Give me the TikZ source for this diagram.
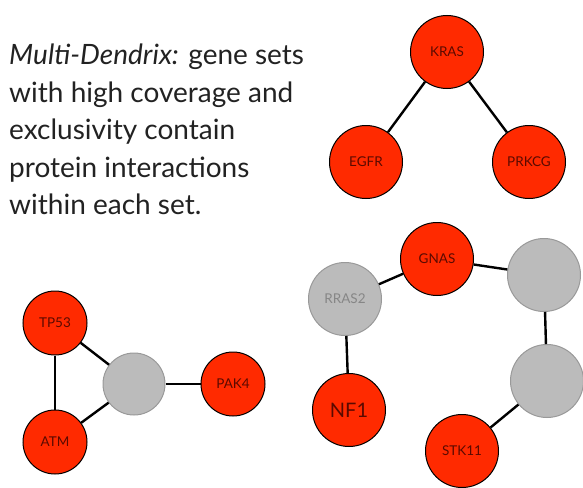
\documentclass[tikz,border=0pt]{standalone}
\usepackage{fontspec}
\setmainfont{Lato}
\usepackage{xcolor}
\usetikzlibrary{positioning}
\definecolor{genered}{HTML}{FF2A00}
\definecolor{genegray}{HTML}{BBBBBB}
\definecolor{labeltxt}{HTML}{5A0A00}
\definecolor{captiontxt}{HTML}{222222}
\tikzset{
  gene/.style={circle, draw=black, line width=1pt, fill=genered, inner sep=0pt,
    minimum size=73pt, text=labeltxt, font=\fontsize{13.5}{13.5}\selectfont},
  other/.style={circle, draw=gray!80, line width=1pt, fill=genegray, inner sep=0pt,
    minimum size=73pt, text=gray!95!white, font=\fontsize{13.5}{13.5}\selectfont},
  link/.style={line width=2.4pt, black}
}
\begin{document}
\begin{tikzpicture}[x=1pt, y=-1pt]
      \useasboundingbox (0,0) rectangle (583,487);

      \node[anchor=north west, align=left, inner sep=0pt, text=captiontxt, font=\fontsize{28}{37.5}\selectfont] (caption) at (9,44)
        {\textit{Multi-Dendrix:} gene sets\\with high coverage and\\exclusivity contain\\protein interactions\\within each set.};

      % first set
      \node[gene] (KRAS) at (447,52) {KRAS};
      \node[gene] (EGFR) at (366,162) {EGFR};
      \node[gene] (PRKCG) at (529,162) {PRKCG};
      \draw[link] (KRAS) -- (EGFR);
      \draw[link] (KRAS) -- (PRKCG);

      % second set
      \node[gene, minimum size=64pt] (TP53) at (55,323) {TP53};
      \node[gene, minimum size=64pt] (ATM) at (55,442) {ATM};
      \node[other, minimum size=62pt] (hub) at (134,384) {};
      \node[gene, minimum size=64pt] (PAK4) at (233,384) {PAK4};
      \draw[link] (TP53) -- (ATM);
      \draw[link] (TP53) -- (hub);
      \draw[link] (ATM) -- (hub);
      \draw[link] (hub) -- (PAK4);

      % third set
      \node[gene] (GNAS) at (437,259) {GNAS};
      \node[other] (RRAS2) at (345,299) {RRAS2};
      \node[other] (grayA) at (544,275) {};
      \node[other] (grayB) at (547,381) {};
      \node[gene, font=\fontsize{20}{20}\selectfont] (NF1) at (349,410) {NF1};
      \node[gene] (STK11) at (462,451) {STK11};
      \draw[link] (RRAS2) -- (GNAS);
      \draw[link] (GNAS) -- (grayA);
      \draw[link] (grayA) -- (grayB);
      \draw[link] (grayB) -- (STK11);
      \draw[link] (RRAS2) -- (NF1);
\end{tikzpicture}
\end{document}
